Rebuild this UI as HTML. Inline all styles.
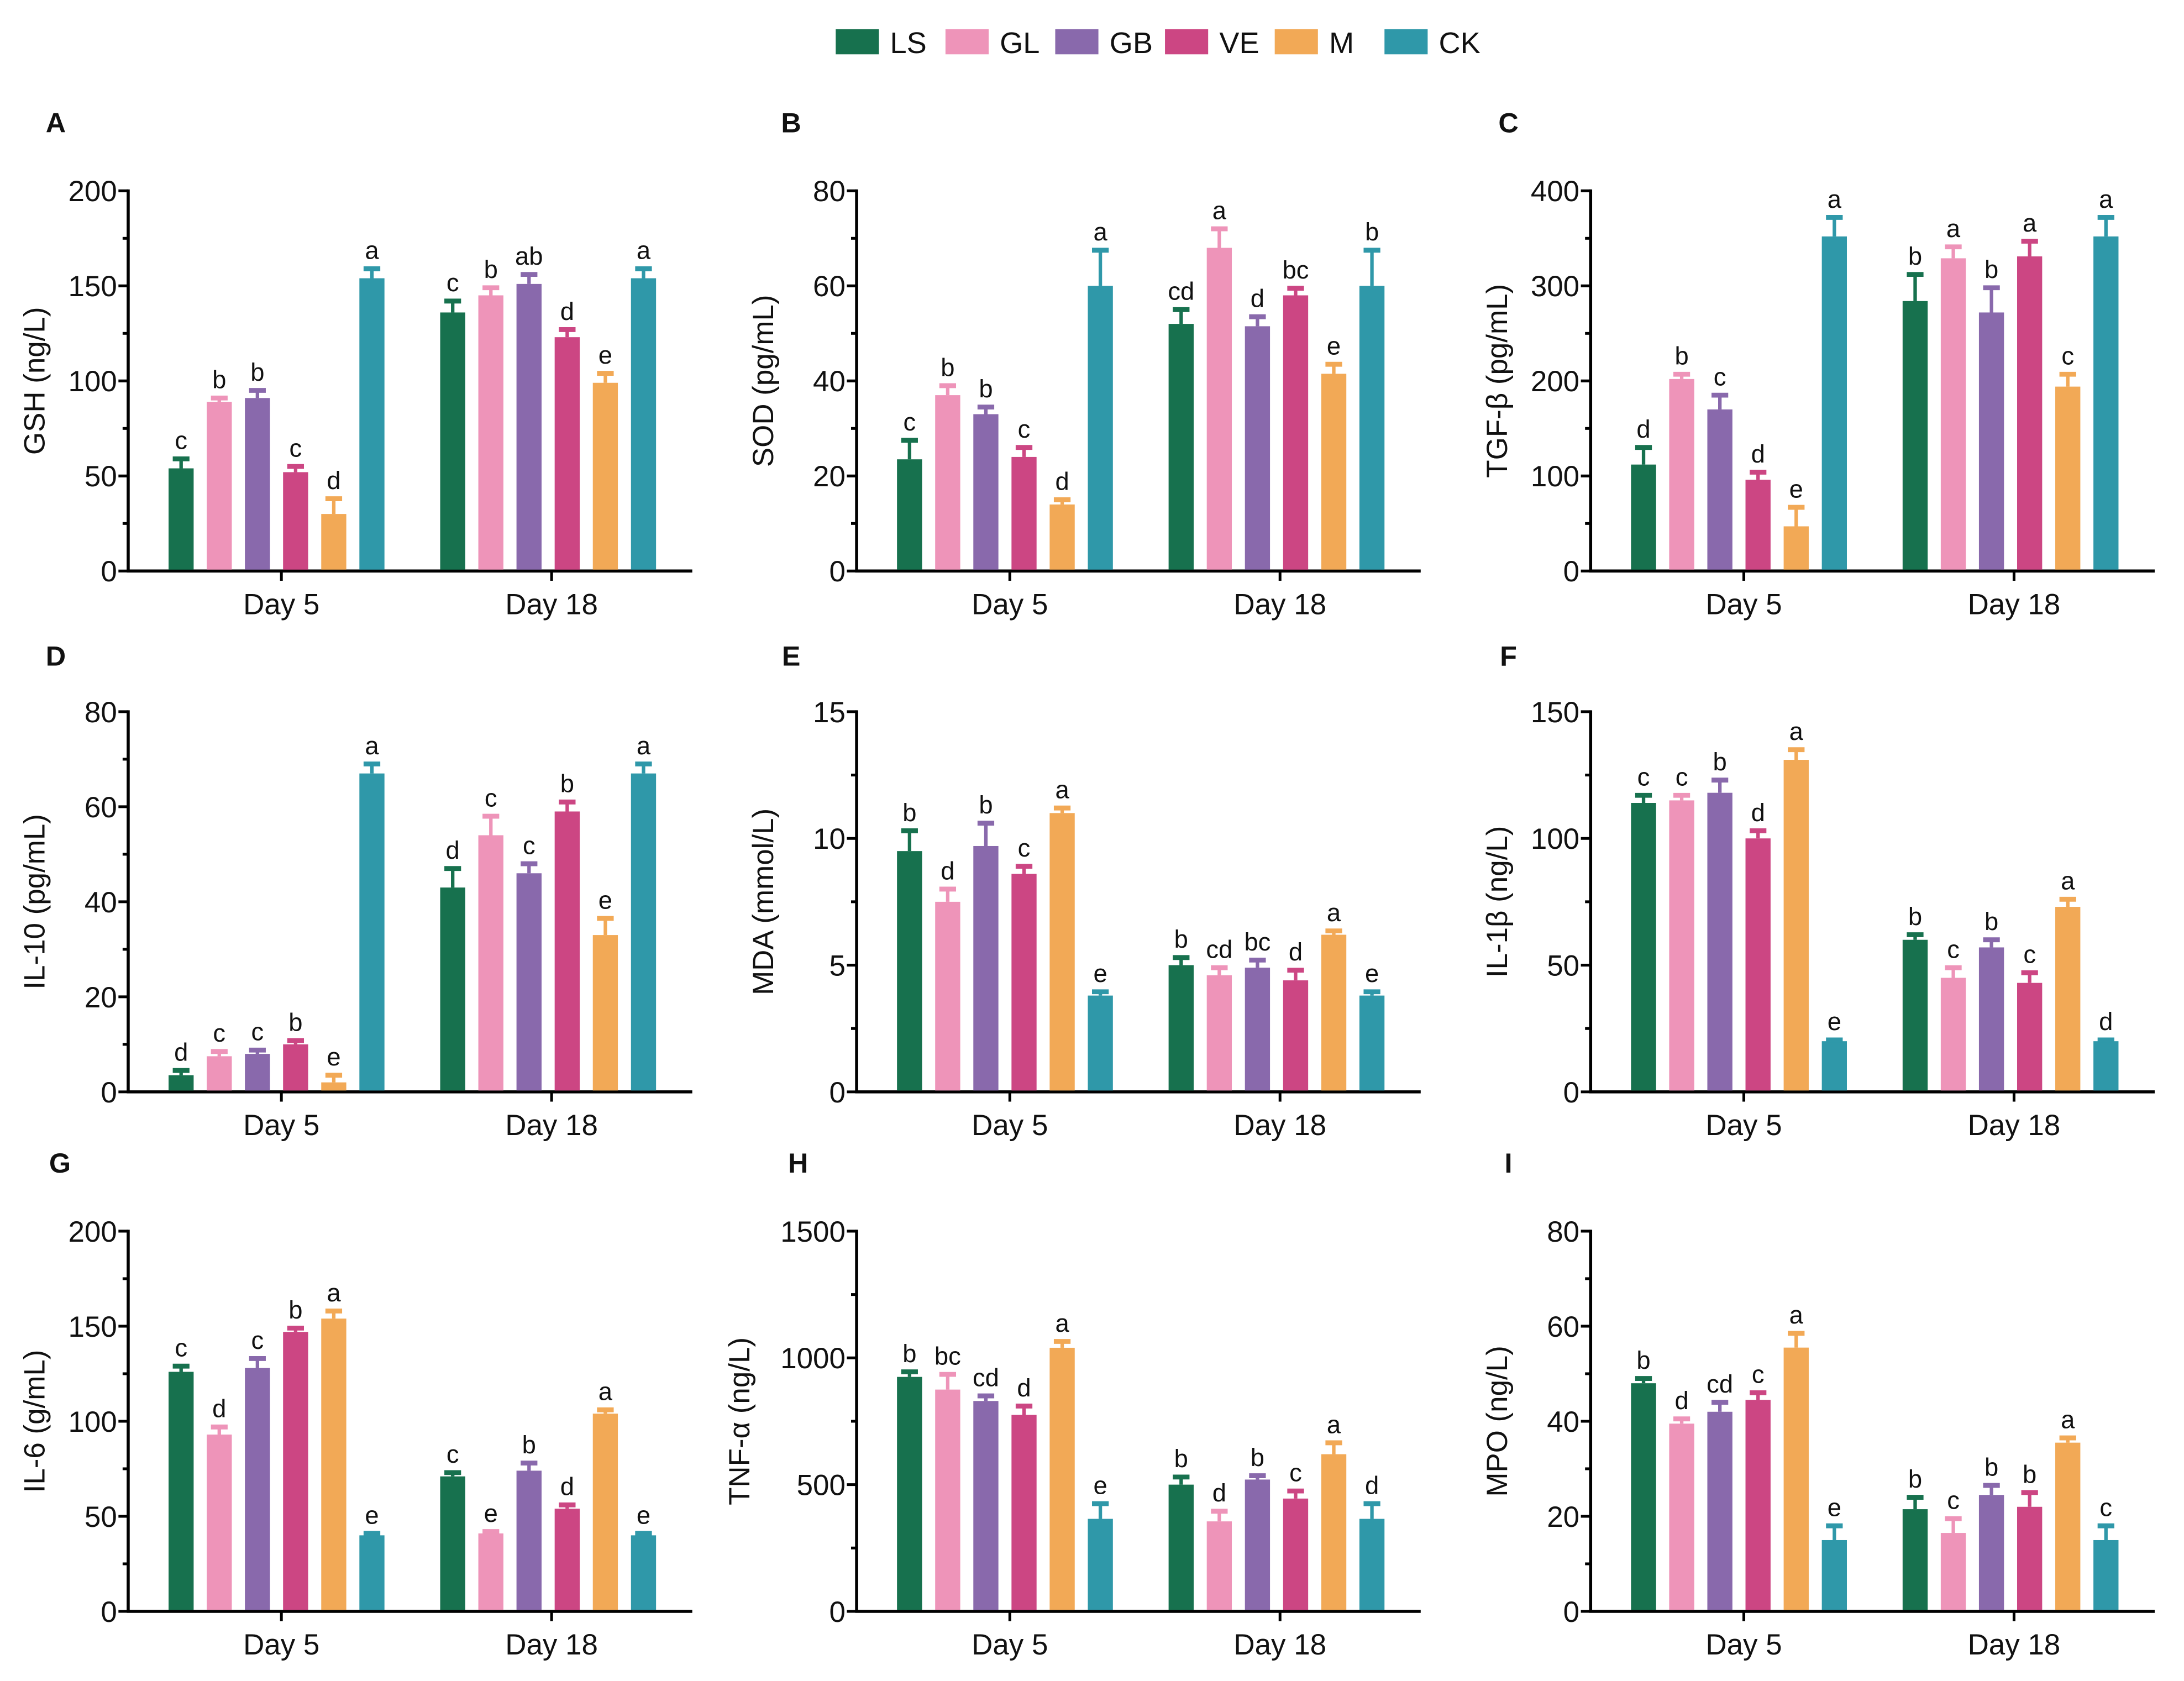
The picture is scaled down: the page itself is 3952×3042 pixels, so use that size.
<!DOCTYPE html>
<html><head><meta charset="utf-8">
<style>
html,body{margin:0;padding:0;background:#fff;}
svg{display:block;}
text{font-family:"Liberation Sans",Arial,sans-serif;fill:#111;}
</style></head>
<body>
<svg id="chart" width="3952" height="3042" viewBox="0 0 1568 1207" xmlns="http://www.w3.org/2000/svg">
<g id="legend"></g>
<g id="panels"></g>
</svg>
<script>
const groups = ["LS","GL","GB","VE","M","CK"];
const colors = ["#17714e","#ee94b9","#8969ac","#cc4683","#f2a956","#2f98a9"];
const days = ["Day 5","Day 18"];
const panelLetters = ["A","B","C","D","E","F","G","H","I"];
const yTitles = ["GSH (ng/L)","SOD (pg/mL)","TGF-β (pg/mL)","IL-10 (pg/mL)","MDA (mmol/L)","IL-1β (ng/L)","IL-6 (g/mL)","TNF-α (ng/L)","MPO (ng/L)"];
const yMax = [200,80,400,80,15,150,200,1500,80];
const yStep = [50,20,100,20,5,50,50,500,20];
const valsA = [[54,89,91,52,30,154],[136,145,151,123,99,154]];
const errsA = [[5,2,4,3,8,5],[6,4,5,4,5,5]];
const letsA = [["c","b","b","c","d","a"],["c","b","ab","d","e","a"]];
const valsB = [[23.5,37,33,24,14,60],[52,68,51.5,58,41.5,60]];
const errsB = [[4,2,1.5,2,1,7.5],[3,4,2,1.5,2,7.5]];
const letsB = [["c","b","b","c","d","a"],["cd","a","d","bc","e","b"]];
const valsC = [[112,202,170,96,47,352],[284,329,272,331,194,352]];
const errsC = [[18,5,15,8,20,20],[28,12,26,16,13,20]];
const letsC = [["d","b","c","d","e","a"],["b","a","b","a","c","a"]];
const valsD = [[3.5,7.5,8,10,2,67],[43,54,46,59,33,67]];
const errsD = [[1,1,0.8,0.8,1.5,2],[4,4,2,2,3.5,2]];
const letsD = [["d","c","c","b","e","a"],["d","c","c","b","e","a"]];
const valsE = [[9.5,7.5,9.7,8.6,11,3.8],[5.0,4.6,4.9,4.4,6.2,3.8]];
const errsE = [[0.8,0.5,0.9,0.3,0.2,0.15],[0.3,0.3,0.3,0.4,0.15,0.15]];
const letsE = [["b","d","b","c","a","e"],["b","cd","bc","d","a","e"]];
const valsF = [[114,115,118,100,131,20],[60,45,57,43,73,20]];
const errsF = [[3,2,5,3,4,0.5],[2,4,3,4,3,0.5]];
const letsF = [["c","c","b","d","a","e"],["b","c","b","c","a","d"]];
const valsG = [[126,93,128,147,154,40],[71,41,74,54,104,40]];
const errsG = [[3,4,5,2,4,1],[2,1,4,2,2,1]];
const letsG = [["c","d","c","b","a","e"],["c","e","b","d","a","e"]];
const valsH = [[925,875,830,775,1040,365],[500,355,520,445,620,365]];
const errsH = [[20,60,20,35,25,60],[30,40,15,30,45,60]];
const letsH = [["b","bc","cd","d","a","e"],["b","d","b","c","a","d"]];
const valsI = [[48,39.5,42,44.5,55.5,15],[21.5,16.5,24.5,22,35.5,15]];
const errsI = [[1,1,2,1.5,3,3],[2.5,3,2,3,1,3]];
const letsI = [["b","d","cd","c","a","e"],["b","c","b","b","a","c"]];
const allVals=[valsA,valsB,valsC,valsD,valsE,valsF,valsG,valsH,valsI];
const allErrs=[errsA,errsB,errsC,errsD,errsE,errsF,errsG,errsH,errsI];
const allLets=[letsA,letsB,letsC,letsD,letsE,letsF,letsG,letsH,letsI];

const NS="http://www.w3.org/2000/svg";
function mk(tag,attrs,parent){const e=document.createElementNS(NS,tag);for(const k in attrs)e.setAttribute(k,attrs[k]);parent.appendChild(e);return e;}

const lg=document.getElementById('legend');
groups.forEach((g,i)=>{
  const lx=600+i*78.8;
  const it=mk('g',{},lg);
  
  
  mk('rect',{x:lx,y:21,width:31,height:18,fill:colors[i]},it);
  const t=mk('text',{x:lx+39,y:38,'font-size':21.5},it);t.textContent=g;
});

const colX=[92,615,1142];
const rowZero=[410,784,1157];
const plotH=273, axLen=405;
const lblPos=[[40,95],[568,95],[1083,95],[40,478],[568,478],[1083,478],[43,842],[573,842],[1083,842]];
const panelsG=document.getElementById('panels');
for(let p=0;p<9;p++){
  const ax=colX[p%3], y0=rowZero[Math.floor(p/3)];
  const pg=mk('g',{},panelsG);
  
  
  const yS=v=>y0-v/yMax[p]*plotH;
  const xS=(d,i)=>ax+38+d*195+i*27.4;
  const pl=mk('text',{x:lblPos[p][0],y:lblPos[p][1],'font-size':20,'font-weight':'bold','text-anchor':'middle'},pg);
  pl.textContent=panelLetters[p];
  
  
  mk('line',{x1:ax,y1:y0-plotH-1,x2:ax,y2:y0+1,stroke:'#000','stroke-width':2.2},pg);
  mk('line',{x1:ax-1,y1:y0,x2:ax+axLen,y2:y0,stroke:'#000','stroke-width':2.2},pg);
  for(let v=0;v<=yMax[p]+1e-9;v+=yStep[p]/2){
    const major=Math.abs(v/yStep[p]-Math.round(v/yStep[p]))<1e-6;
    mk('line',{x1:ax-(major?7:4),y1:yS(v),x2:ax,y2:yS(v),stroke:'#000','stroke-width':2},pg);
    if(major){const t=mk('text',{x:ax-8,y:yS(v)+7.5,'font-size':21,'text-anchor':'end'},pg);t.textContent=String(Math.round(v*10)/10);
      
      }
  }
  const tOff = (p===7)?-77:-60;
  const yt=mk('text',{x:0,y:0,'font-size':21,'text-anchor':'middle',transform:`translate(${ax+tOff},${y0-plotH/2}) rotate(-90)`},pg);
  yt.textContent=yTitles[p];
  
  
  days.forEach((d,di)=>{
    const tx=ax+110+di*194;
    mk('line',{x1:tx,y1:y0,x2:tx,y2:y0+7,stroke:'#000','stroke-width':2},pg);
    const t=mk('text',{x:tx,y:y0+31,'font-size':21,'text-anchor':'middle'},pg);t.textContent=d;
    
    
    for(let i=0;i<6;i++){
      const v=allVals[p][di][i], e=allErrs[p][di][i], cx=xS(di,i), c=colors[i];
      const r=mk('rect',{x:cx-9,y:yS(v),width:18,height:y0-yS(v)-1,fill:c},pg);
      
      
      mk('line',{x1:cx,y1:yS(v),x2:cx,y2:yS(v+e),stroke:c,'stroke-width':2.5},pg);
      mk('line',{x1:cx-6,y1:yS(v+e),x2:cx+6,y2:yS(v+e),stroke:c,'stroke-width':3.5},pg);
      const lt=mk('text',{x:cx,y:yS(v+e)-7,'font-size':18,'text-anchor':'middle'},pg);
      lt.textContent=allLets[p][di][i];
      
      
    }
  });
}
</script>
</body></html>
